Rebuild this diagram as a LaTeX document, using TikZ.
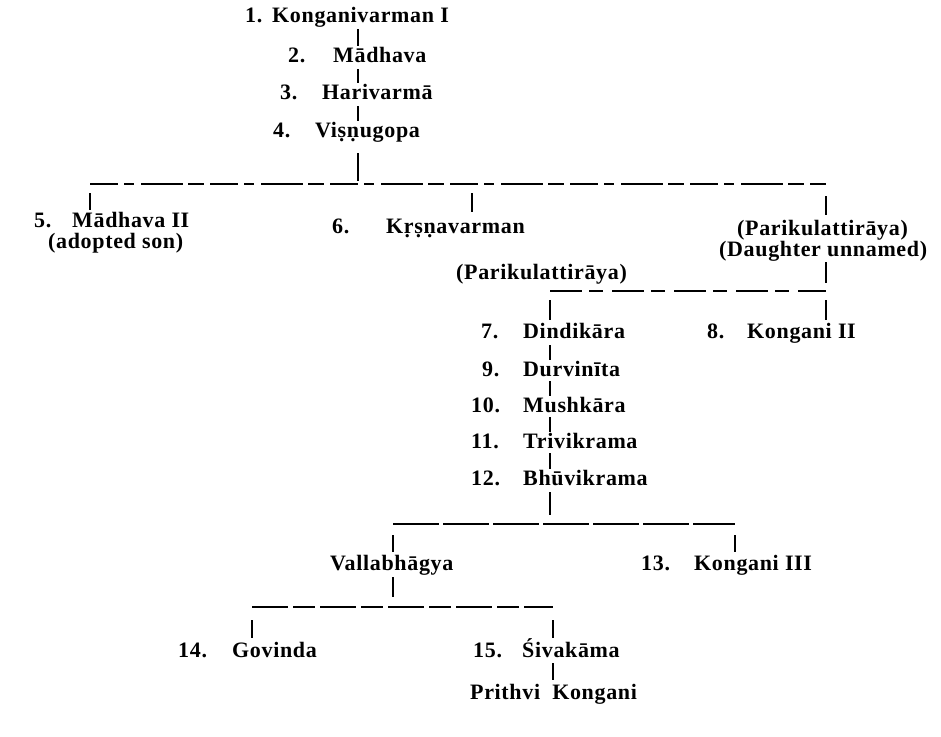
\documentclass[tikz,border=0pt]{standalone}
\usepackage{fontspec}
\setmainfont{Liberation Serif}[LetterSpace=3]
\usetikzlibrary{calc}
\tikzset{
  lbl/.style={anchor=base west, inner sep=0pt, font=\fontsize{22}{25}\selectfont\bfseries},
  conn/.style={line width=1.7pt},
  barA/.style={line width=1.5pt, dash pattern=on 28pt off 6pt on 10pt off 7pt on 42pt off 5pt on 16pt off 6pt},
  barB/.style={line width=1.5pt, dash pattern=on 32pt off 7pt on 14pt off 9pt},
  barC/.style={line width=1.5pt, dash pattern=on 46pt off 4pt},
  barD/.style={line width=1.5pt, dash pattern=on 36pt off 5pt on 22pt off 5pt}
}
\newcommand\linkdown[3]{\draw[conn] ($(#1.base -| #3)+(0,7)$) -- ($(#2.base -| #3)+(0,-16)$);}
\begin{document}
\begin{tikzpicture}[x=1pt,y=-1pt]
\useasboundingbox (0,0) rectangle (941,736);
% spines
\coordinate (s1) at (358,0);
\coordinate (s2) at (550,0);
% top chain
\node[lbl] (k1) at (245,22) {1.};
\node[lbl] (n1) at (272,22) {Konganivarman I};
\node[lbl] (k2) at (288,62) {2.};
\node[lbl] (n2) at (333,62) {Mādhava};
\node[lbl] (k3) at (280,99) {3.};
\node[lbl] (n3) at (322,99) {Harivarmā};
\node[lbl] (k4) at (273,137) {4.};
\node[lbl] (n4) at (315,137) {Viṣṇugopa};
\linkdown{n1}{n2}{s1}
\linkdown{n2}{n3}{s1}
\linkdown{n3}{n4}{s1}
% first bar
\coordinate (b1L) at (90,184);
\coordinate (b1M) at (472,184);
\coordinate (b1R) at (826,184);
\draw[conn] ($(n4.base -| s1)+(0,16)$) -- ($(s1 |- b1L)+(0,-3)$);
\draw[barA] (b1L) -- (b1R);
\node[lbl] (k5) at (34,227) {5.};
\node[lbl] (n5) at (72,227) {Mādhava II};
\node[lbl] (nAd) at (48,248) {(adopted son)};
\node[lbl] (k6) at (332,233) {6.};
\node[lbl] (n6) at (386,233) {Kṛṣṇavarman};
\node[lbl] (nParR) at (737,235) {(Parikulattirāya)};
\node[lbl] (nDau) at (719,256) {(Daughter unnamed)};
\draw[conn] ($(b1L)+(0,9)$) -- ($(n5.base -| b1L)+(0,-17)$);
\draw[conn] ($(b1M)+(0,9)$) -- ($(n6.base -| b1M)+(0,-21)$);
\draw[conn] ($(b1R)+(0,12)$) -- ($(nParR.base -| b1R)+(0,-20)$);
% second bar
\node[lbl] (nParL) at (456,279) {(Parikulattirāya)};
\coordinate (b2L) at (550,291);
\coordinate (b2R) at (826,291);
\draw[conn] ($(nDau.base -| b2R)+(0,6)$) -- ($(b2R)+(0,-8)$);
\draw[barB] (b2L) -- (b2R);
\node[lbl] (k7) at (481,338) {7.};
\node[lbl] (n7) at (523,338) {Dindikāra};
\node[lbl] (k8) at (707,338) {8.};
\node[lbl] (n8) at (747,338) {Kongani II};
\draw[conn] ($(b2L)+(0,9)$) -- ($(n7.base -| b2L)+(0,-18)$);
\draw[conn] ($(b2R)+(0,9)$) -- ($(n8.base -| b2R)+(0,-18)$);
% second chain
\node[lbl] (k9) at (482,376) {9.};
\node[lbl] (n9) at (523,376) {Durvinīta};
\node[lbl] (k10) at (471,412) {10.};
\node[lbl] (n10) at (523,412) {Mushkāra};
\node[lbl] (k11) at (471,448) {11.};
\node[lbl] (n11) at (523,448) {Trivikrama};
\node[lbl] (k12) at (471,485) {12.};
\node[lbl] (n12) at (523,485) {Bhūvikrama};
\linkdown{n7}{n9}{s2}
\draw[conn] ($(n9.base -| s2)+(0,5)$) -- ($(n10.base -| s2)+(0,-16)$);
\draw[conn] ($(n10.base -| s2)+(0,5)$) -- ($(n11.base -| s2)+(0,-16)$);
\draw[conn] ($(n11.base -| s2)+(0,5)$) -- ($(n12.base -| s2)+(0,-16)$);
% third bar
\coordinate (b3L) at (393,524);
\coordinate (b3R) at (735,524);
\draw[conn] ($(n12.base -| s2)+(0,7)$) -- ($(s2 |- b3L)+(0,-9)$);
\draw[barC] (b3L) -- (b3R);
\node[lbl] (nVal) at (330,570) {Vallabhāgya};
\node[lbl] (k13) at (641,570) {13.};
\node[lbl] (n13) at (694,570) {Kongani III};
\draw[conn] ($(b3L)+(0,11)$) -- ($(nVal.base -| b3L)+(0,-18)$);
\draw[conn] ($(b3R)+(0,11)$) -- ($(n13.base -| b3R)+(0,-18)$);
% fourth bar
\coordinate (b4L) at (252,607);
\coordinate (b4R) at (553,607);
\draw[conn] ($(nVal.base -| b3L)+(0,7)$) -- ($(b3L |- b4L)+(0,-10)$);
\draw[barD] (b4L) -- (b4R);
\node[lbl] (k14) at (178,657) {14.};
\node[lbl] (n14) at (232,657) {Govinda};
\node[lbl] (k15) at (473,657) {15.};
\node[lbl] (n15) at (522,657) {Śivakāma};
\draw[conn] ($(b4L)+(0,13)$) -- ($(n14.base -| b4L)+(0,-19)$);
\draw[conn] ($(b4R)+(0,13)$) -- ($(n15.base -| b4R)+(0,-19)$);
\node[lbl] (nPr) at (470,699) {Prithvi\hspace{6pt} Kongani};
\draw[conn] ($(n15.base -| b4R)+(0,6)$) -- ($(nPr.base -| b4R)+(0,-19)$);
\end{tikzpicture}
\end{document}
